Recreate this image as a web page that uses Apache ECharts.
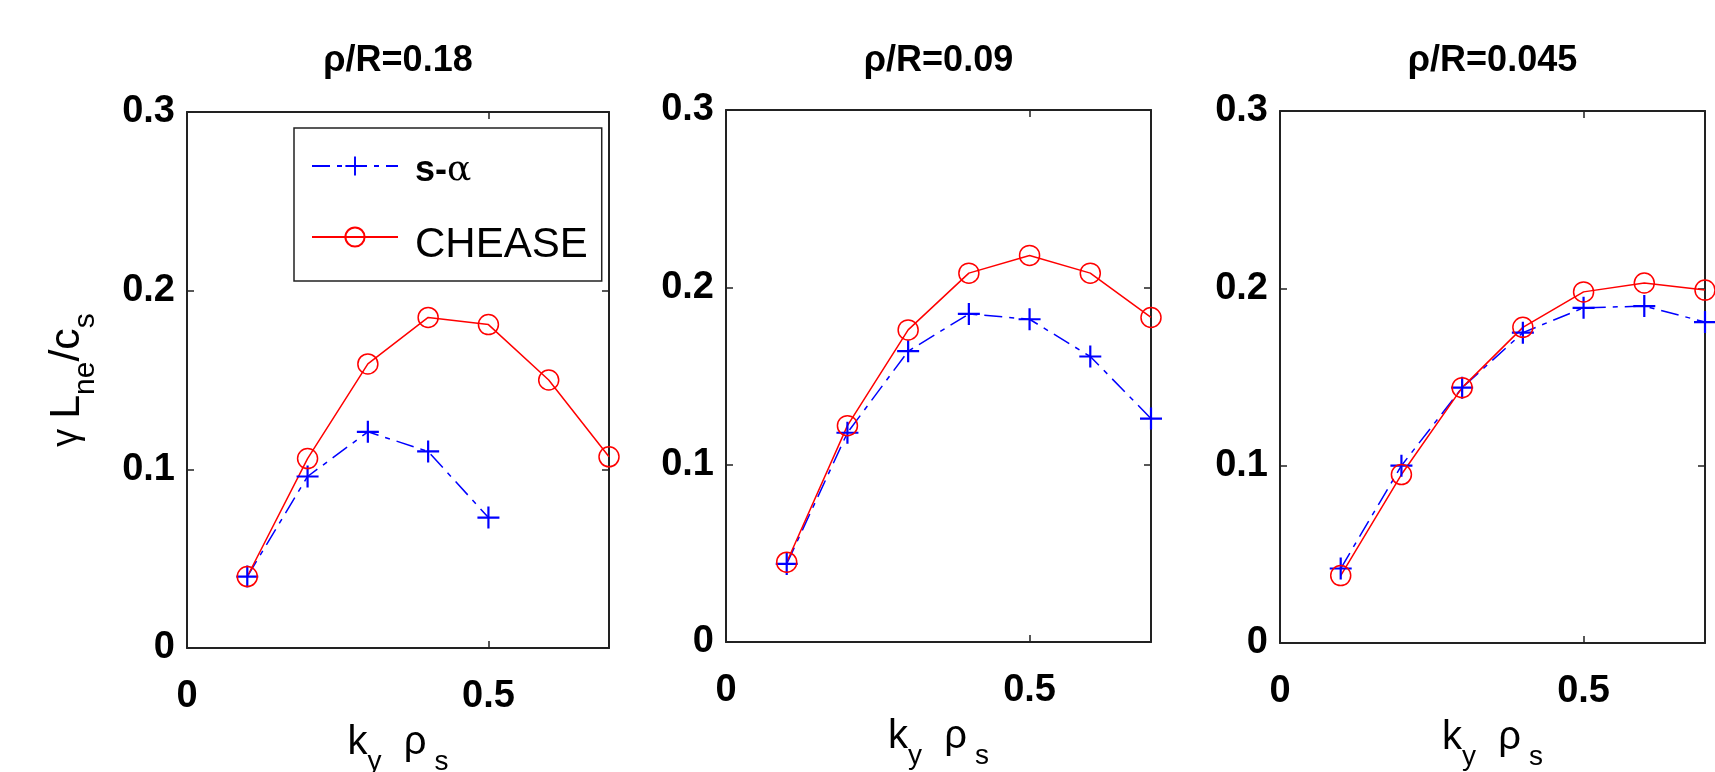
<!DOCTYPE html>
<html>
<head>
<meta charset="utf-8">
<title>gamma L_ne / c_s vs k_y rho_s</title>
<script src="https://cdn.jsdelivr.net/npm/echarts@6/dist/echarts.min.js"></script>
<style>
    html, body { margin: 0; padding: 0; background: #fff; }
    #main { width: 1715px; height: 772px; }
</style>
</head>
<body>
<div id="main"></div>
<script>
// k_y rho_s values
var kyRho = [0.1, 0.2, 0.3, 0.4, 0.5, 0.6, 0.7];

var panelTitles = ['ρ/R=0.18', 'ρ/R=0.09', 'ρ/R=0.045'];
var legendNames = ['s-α', 'CHEASE'];

// rho/R = 0.18
var sAlpha1 = [0.040, 0.096, 0.121, 0.110, 0.073];
var chease1 = [0.040, 0.106, 0.159, 0.185, 0.181, 0.150, 0.107];
// rho/R = 0.09
var sAlpha2 = [0.044, 0.118, 0.164, 0.185, 0.182, 0.161, 0.126];
var chease2 = [0.045, 0.122, 0.176, 0.208, 0.218, 0.208, 0.183];
// rho/R = 0.045
var sAlpha3 = [0.042, 0.100, 0.144, 0.175, 0.189, 0.190, 0.181];
var chease3 = [0.038, 0.095, 0.144, 0.178, 0.198, 0.203, 0.199];

var xTickLabels = ['0', '0.5'];

var sAlphaAll = [sAlpha1, sAlpha2, sAlpha3];
var cheaseAll = [chease1, chease2, chease3];

var FONT = "'Liberation Sans', Arial, Helvetica, sans-serif";
var plusPath = 'path://M9,0 H11 V9 H20 V11 H11 V20 H9 V11 H0 V9 H9 Z';

var grids = [
    {left: 187, top: 112, width: 422, height: 536},
    {left: 726, top: 110, width: 425, height: 532},
    {left: 1280, top: 111, width: 425, height: 532}
];

function pairs(vals) {
    return vals.map(function (v, i) {
        return [kyRho[i], v];
    });
}

var boxLine = {lineStyle: {color: '#222', width: 2}, onZero: false};
var boxTick = {inside: true, length: 7, lineStyle: {color: '#222', width: 1.5}};

var xAxes = [], yAxes = [], series = [], titles = [];

grids.forEach(function (g, i) {
    g.outerBoundsMode = 'none';
    g.containLabel = false;

    titles.push({
        text: panelTitles[i],
        left: g.left + g.width / 2 - 5,
        top: 38,
        textAlign: 'center',
        textStyle: {fontFamily: FONT, fontSize: 36, fontWeight: 'bold', color: '#000'}
    });

    //下轴
    xAxes.push({
        type: 'value', gridIndex: i, min: 0, max: 0.7, interval: 0.5,
        axisLine: boxLine, axisTick: boxTick, splitLine: {show: false},
        axisLabel: {
            margin: 30, fontFamily: FONT, fontSize: 38, fontWeight: 'bold', color: '#000',
            showMaxLabel: false,
            formatter: function (v) {
                if (v === 0) return xTickLabels[0];
                if (Math.abs(v - 0.5) < 1e-9) return xTickLabels[1];
                return '';
            }
        },
        name: '{a|k}{s|y}{a|  ρ}{s| s}',
        nameLocation: 'middle',
        nameGap: 72,
        nameTextStyle: {
            rich: {
                a: {fontFamily: FONT, fontSize: 40, lineHeight: 46, color: '#000'},
                s: {fontFamily: FONT, fontSize: 28, lineHeight: 28, verticalAlign: 'bottom', color: '#000', padding: [0, 0, -10, 0]}
            }
        }
    });
    //上轴 (box)
    xAxes.push({
        type: 'value', gridIndex: i, min: 0, max: 0.7, interval: 0.5, position: 'top',
        axisLine: boxLine, axisTick: boxTick, splitLine: {show: false},
        axisLabel: {show: false}
    });

    var yLeft = {
        type: 'value', gridIndex: i, min: 0, max: 0.3, interval: 0.1,
        axisLine: boxLine, axisTick: boxTick, splitLine: {show: false},
        axisLabel: {margin: 12, fontFamily: FONT, fontSize: 38, fontWeight: 'bold', color: '#000'}
    };
    if (i === 0) {
        yLeft.name = '{g|γ }{a|L}{s|ne}{a|/c}{s|s}';
        yLeft.nameLocation = 'middle';
        yLeft.nameRotate = 90;
        yLeft.nameGap = 96;
        yLeft.nameTextStyle = {
            rich: {
                g: {fontFamily: FONT, fontSize: 36, lineHeight: 48, color: '#000'},
                a: {fontFamily: FONT, fontSize: 43, lineHeight: 48, color: '#000'},
                s: {fontFamily: FONT, fontSize: 30, lineHeight: 30, verticalAlign: 'bottom', color: '#000', padding: [0, 0, -10, 0]}
            }
        };
    }
    yAxes.push(yLeft);
    yAxes.push({
        type: 'value', gridIndex: i, min: 0, max: 0.3, interval: 0.1, position: 'right',
        axisLine: boxLine, axisTick: boxTick, splitLine: {show: false},
        axisLabel: {show: false}
    });

    series.push({
        name: legendNames[0], type: 'line',
        xAxisIndex: 2 * i, yAxisIndex: 2 * i,
        data: pairs(sAlphaAll[i]),
        symbol: plusPath, symbolSize: 22,
        itemStyle: {color: '#0000ff'},
        lineStyle: {color: '#0000ff', width: 1.5, type: [18, 7, 5, 7]},
        clip: false
    });
    series.push({
        name: legendNames[1], type: 'line',
        xAxisIndex: 2 * i, yAxisIndex: 2 * i,
        data: pairs(cheaseAll[i]),
        symbol: 'circle', symbolSize: 20,
        itemStyle: {color: 'rgba(0,0,0,0)', borderColor: '#ff0000', borderWidth: 1.5},
        lineStyle: {color: '#ff0000', width: 1.5},
        clip: false
    });
});

var myChart = echarts.init(document.getElementById('main'));
var option = {
    animation: false,
    backgroundColor: '#fff',
    title: titles,
    grid: grids,
    xAxis: xAxes,
    yAxis: yAxes,
    legend: {
        orient: 'vertical',
        left: 294,
        top: 128,
        data: legendNames,
        itemWidth: 86,
        itemHeight: 24,
        itemGap: 35,
        padding: [25, 14, 15, 17],
        borderColor: '#222',
        borderWidth: 1.5,
        backgroundColor: '#fff',
        selectedMode: false,
        textStyle: {
            fontFamily: FONT, fontSize: 40, color: '#000', padding: [0, 0, 0, 6],
            rich: {
                b: {fontFamily: FONT, fontSize: 36, fontWeight: 'bold', color: '#000', padding: [10, 0, 0, 6]},
                g: {fontFamily: 'DejaVu Serif, serif', fontSize: 36, color: '#000', padding: [10, 0, 0, 0]},
                c: {fontFamily: FONT, fontSize: 42, color: '#000', padding: [16, 0, 0, 6]}
            }
        },
        formatter: function (name) {
            if (name === legendNames[0]) return '{b|s-}{g|α}';
            return '{c|' + name + '}';
        }
    },
    series: series
};
myChart.setOption(option);
</script>
</body>
</html>
